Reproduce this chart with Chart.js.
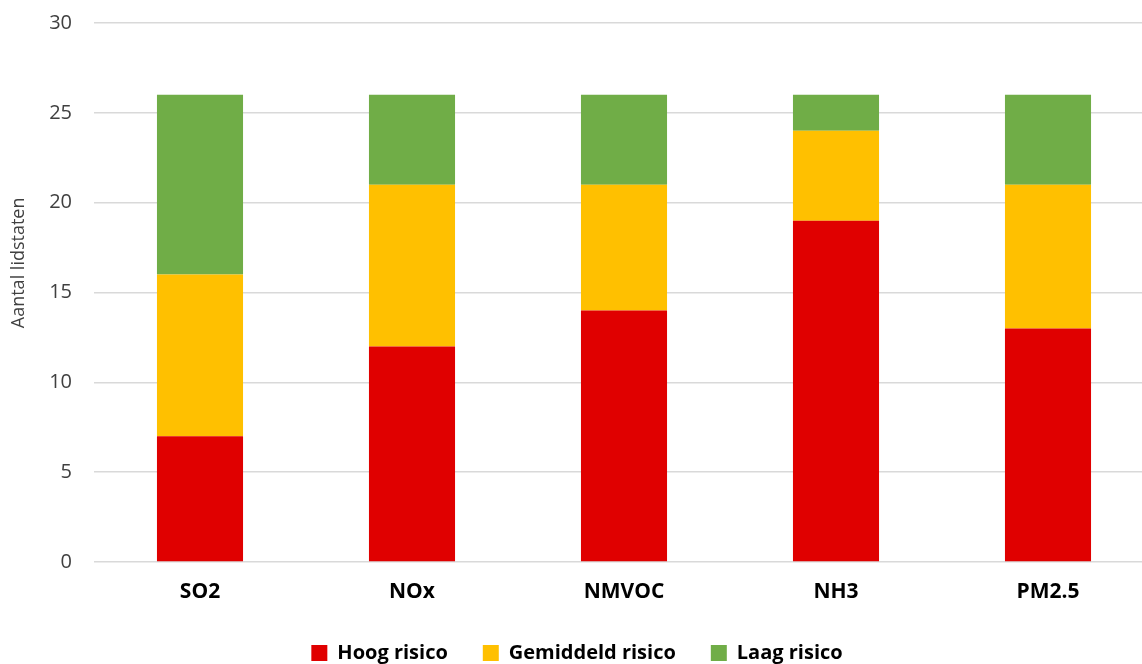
<!DOCTYPE html>
<html><head><meta charset="utf-8">
<script src="https://cdn.jsdelivr.net/npm/chart.js@4/dist/chart.umd.min.js"></script>
<style>html,body{margin:0;padding:0;background:#fff;overflow:hidden;width:1142px;height:664px}#wrap{width:1154px;height:700px;position:relative;margin-top:-11px}</style>
</head><body><div id="wrap"><canvas id="c"></canvas></div>
<script>
// Aantal lidstaten per risicoklasse, per stof
const categories = ['SO2', 'NOx', 'NMVOC', 'NH3', 'PM2.5'];
const hoogRisico = [7, 12, 14, 19, 13];
const gemiddeldRisico = [9, 9, 7, 5, 8];
const laagRisico = [10, 5, 5, 2, 5];
const seriesNames = ['Hoog risico', 'Gemiddeld risico', 'Laag risico'];
const yTicks = [0, 5, 10, 15, 20, 25, 30];
const yTitle = 'Aantal lidstaten';

const FONT = '"Open Sans", Lato, sans-serif';

// Vertical axis title, placed a little above the middle of the plot area
const yTitlePlugin = {
  id: 'yTitle',
  afterDraw(chart) {
    const { ctx, chartArea } = chart;
    ctx.save();
    ctx.translate(19, chartArea.top + chartArea.height * 0.445);
    ctx.rotate(-Math.PI / 2);
    ctx.font = '18px ' + FONT;
    ctx.fillStyle = '#404040';
    ctx.textAlign = 'center';
    ctx.textBaseline = 'middle';
    ctx.fillText(yTitle, 0, 0);
    ctx.restore();
  }
};

new Chart(document.getElementById('c'), {
  type: 'bar',
  data: {
    labels: categories,
    datasets: [
      { label: seriesNames[0], data: hoogRisico, backgroundColor: '#e00000' },
      { label: seriesNames[1], data: gemiddeldRisico, backgroundColor: '#ffc000' },
      { label: seriesNames[2], data: laagRisico, backgroundColor: '#70ad47' }
    ]
  },
  plugins: [yTitlePlugin],
  options: {
    responsive: true,
    maintainAspectRatio: false,
    animation: false,
    datasets: { bar: { barPercentage: 1, categoryPercentage: 0.406, borderWidth: 0 } },
    layout: { padding: { top: 0, right: 0, bottom: 16, left: 0 } },
    plugins: {
      tooltip: { enabled: false },
      legend: {
        position: 'bottom',
        labels: {
          boxWidth: 16, boxHeight: 16, padding: 35,
          color: '#000',
          font: { family: FONT, size: 20, weight: 'bold' }
        }
      }
    },
    scales: {
      x: {
        stacked: true,
        grid: { display: false },
        border: { display: false },
        ticks: { color: '#000', padding: 9, font: { family: FONT, size: 21, weight: 'bold' } },
        afterFit: s => { s.height = 46; }
      },
      y: {
        stacked: true,
        min: 0, max: 30,
        afterBuildTicks: s => { s.ticks = yTicks.map(v => ({ value: v })); },
        grid: { color: '#d9d9d9', lineWidth: 1.5, drawTicks: false },
        border: { display: false },
        ticks: { color: '#404040', padding: 22, font: { family: FONT, size: 20 } },
        afterFit: s => { s.width = 94; }
      }
    }
  }
});
</script>
</body></html>
